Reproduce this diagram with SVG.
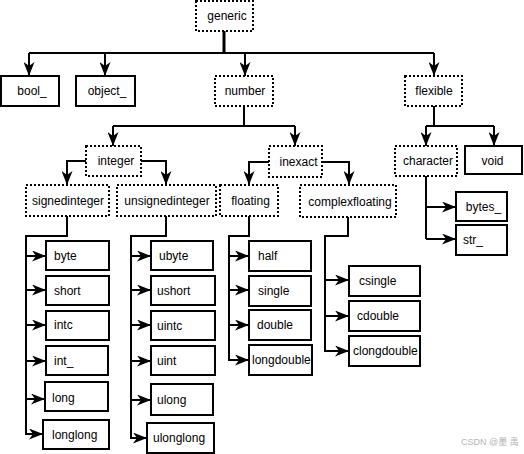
<svg xmlns="http://www.w3.org/2000/svg" width="524" height="454" viewBox="0 0 524 454">
<defs>
<marker id="ah" viewBox="0 0 14 11" refX="14" refY="5.5" markerWidth="14" markerHeight="11" markerUnits="userSpaceOnUse" orient="auto">
<path d="M0,0 L14,5.5 L0,11 L4,5.5 z" fill="#000"/>
</marker>
<style>
.ab{fill:#fff;stroke:#000;stroke-width:2;stroke-dasharray:2 2}
.lf{fill:#fff;stroke:#000;stroke-width:2}
text{font-family:"Liberation Sans",Arial,sans-serif;font-size:12px;fill:#000}
.c{text-anchor:middle}
.ln{fill:none;stroke:#000;stroke-width:2}
.ar{fill:none;stroke:#000;stroke-width:2;marker-end:url(#ah)}
.wm{font-family:"Liberation Sans","Noto Sans CJK SC",sans-serif;font-size:9px;fill:#b4b4b4}
</style>
</defs>
<rect width="524" height="454" fill="#fff"/>
<g id="connectors">
<path class="ln" d="M224,31 V53" style="stroke-width:3"/>
<path class="ln" d="M29,53 H434"/>
<path class="ar" d="M29,53 V76"/>
<path class="ar" d="M105,53 V76"/>
<path class="ar" d="M245,53 V76"/>
<path class="ar" d="M434,53 V76"/>
<path class="ln" d="M244,106 V126 M113,126 H295"/>
<path class="ar" d="M113,126 V146"/>
<path class="ar" d="M295,126 V146"/>
<path class="ln" d="M434,106 V126 M426,126 H494"/>
<path class="ar" d="M426,126 V146"/>
<path class="ar" d="M494,126 V146"/>
<path class="ar" d="M86,161 H67 V185"/>
<path class="ar" d="M141,161 H166 V185"/>
<path class="ar" d="M269,162 H249 V185"/>
<path class="ar" d="M322,162 H349 V185"/>
<path class="ln" d="M426,176 V239"/>
<path class="ar" d="M426,207 H456"/>
<path class="ar" d="M426,239 H456"/>
<path class="ln" d="M67,216 V236 H26 V434"/>
<path class="ar" d="M26,256 H46"/>
<path class="ar" d="M26,290 H46"/>
<path class="ar" d="M26,325 H46"/>
<path class="ar" d="M26,361 H46"/>
<path class="ar" d="M26,399 H45"/>
<path class="ar" d="M25,434 H43"/>
<path class="ln" d="M166,216 V236 H131 V438"/>
<path class="ar" d="M131,256 H151"/>
<path class="ar" d="M131,290 H151"/>
<path class="ar" d="M131,325 H151"/>
<path class="ar" d="M131,361 H151"/>
<path class="ar" d="M131,400 H151"/>
<path class="ar" d="M130,438 H147"/>
<path class="ln" d="M249,216 V236 H229 V360"/>
<path class="ar" d="M229,256 H249"/>
<path class="ar" d="M229,290 H249"/>
<path class="ar" d="M229,325 H249"/>
<path class="ar" d="M228,360 H249"/>
<path class="ln" d="M348,217 V236 H325 V351"/>
<path class="ar" d="M325,280 H349"/>
<path class="ar" d="M325,316 H349"/>
<path class="ar" d="M324,351 H349"/>
</g>
<g id="generic"><rect class="ab" x="196" y="1" width="57" height="30"/><text class="c" x="227" y="20">generic</text></g>
<g id="bool_"><rect class="lf" x="1" y="76" width="58" height="30"/><text class="c" x="32" y="95">bool_</text></g>
<g id="object_"><rect class="lf" x="76" y="76" width="59" height="30"/><text class="c" x="107" y="95">object_</text></g>
<g id="number"><rect class="ab" x="215" y="76" width="58" height="30"/><text class="c" x="245" y="95">number</text></g>
<g id="flexible"><rect class="ab" x="405" y="76" width="57" height="30"/><text class="c" x="434" y="95">flexible</text></g>
<g id="integer"><rect class="ab" x="86" y="146" width="55" height="30"/><text class="c" x="116" y="165">integer</text></g>
<g id="inexact"><rect class="ab" x="269" y="146" width="53" height="31"/><text class="c" x="298.5" y="166">inexact</text></g>
<g id="character"><rect class="ab" x="395" y="146" width="62" height="30"/><text class="c" x="428" y="165">character</text></g>
<g id="void"><rect class="lf" x="465" y="146" width="57" height="28"/><text class="c" x="492.5" y="165">void</text></g>
<g id="signedinteger"><rect class="ab" x="26" y="185" width="83" height="31"/><text class="c" x="68" y="205">signedinteger</text></g>
<g id="unsignedinteger"><rect class="ab" x="117" y="185" width="99" height="31"/><text class="c" x="167" y="205">unsignedinteger</text></g>
<g id="floating"><rect class="ab" x="220" y="185" width="58" height="31"/><text class="c" x="250.5" y="205">floating</text></g>
<g id="complexfloating"><rect class="ab" x="300" y="185" width="96" height="32"/><text class="c" x="350" y="206">complexfloating</text></g>
<g id="bytes_"><rect class="lf" x="456" y="192" width="51" height="29"/><text class="c" x="483.5" y="211">bytes_</text></g>
<g id="str_"><rect class="lf" x="456" y="225" width="51" height="30"/><text x="463" y="244">str_</text></g>
<g id="byte"><rect class="lf" x="46" y="241" width="63" height="29"/><text x="54" y="260">byte</text></g>
<g id="short"><rect class="lf" x="46" y="276" width="63" height="29"/><text x="54" y="295">short</text></g>
<g id="intc"><rect class="lf" x="46" y="311" width="63" height="29"/><text x="54" y="329">intc</text></g>
<g id="int_"><rect class="lf" x="46" y="346" width="62" height="29"/><text x="54" y="365">int_</text></g>
<g id="long"><rect class="lf" x="45" y="382" width="63" height="29"/><text x="52" y="402">long</text></g>
<g id="longlong"><rect class="lf" x="43" y="420" width="66" height="29"/><text x="52" y="439">longlong</text></g>
<g id="ubyte"><rect class="lf" x="151" y="241" width="62" height="29"/><text x="159" y="260">ubyte</text></g>
<g id="ushort"><rect class="lf" x="151" y="276" width="64" height="29"/><text x="157" y="295">ushort</text></g>
<g id="uintc"><rect class="lf" x="151" y="311" width="64" height="29"/><text x="157" y="330">uintc</text></g>
<g id="uint"><rect class="lf" x="151" y="346" width="64" height="29"/><text x="157" y="365">uint</text></g>
<g id="ulong"><rect class="lf" x="151" y="384" width="62" height="31"/><text x="157" y="404">ulong</text></g>
<g id="ulonglong"><rect class="lf" x="147" y="423" width="67" height="30"/><text x="153" y="442">ulonglong</text></g>
<g id="half"><rect class="lf" x="249" y="241" width="62" height="30"/><text x="258" y="260">half</text></g>
<g id="single"><rect class="lf" x="249" y="276" width="62" height="30"/><text x="258" y="295">single</text></g>
<g id="double"><rect class="lf" x="249" y="310" width="62" height="30"/><text x="257" y="329">double</text></g>
<g id="longdouble"><rect class="lf" x="249" y="345" width="63" height="30"/><text x="252" y="364">longdouble</text></g>
<g id="csingle"><rect class="lf" x="349" y="266" width="71" height="30"/><text x="359" y="285">csingle</text></g>
<g id="cdouble"><rect class="lf" x="349" y="301" width="71" height="30"/><text x="357" y="320">cdouble</text></g>
<g id="clongdouble"><rect class="lf" x="349" y="336" width="71" height="30"/><text x="353" y="355">clongdouble</text></g>
<text class="wm" x="461" y="445">CSDN @墨 禹</text>
</svg>
